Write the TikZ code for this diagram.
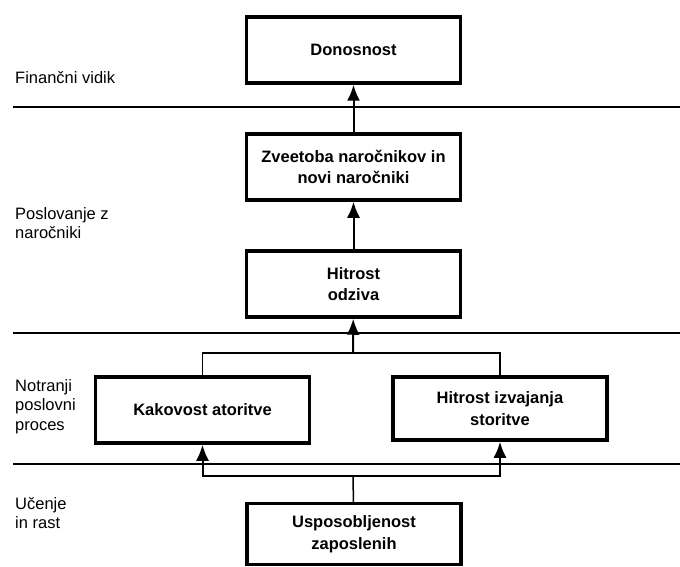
\documentclass[tikz,border=0pt]{standalone}
\usepackage{fontspec}
\setmainfont{Liberation Sans}
\usetikzlibrary{positioning,arrows.meta}

\begin{document}
\begin{tikzpicture}[x=1pt, y=-1pt,
  boxstyle/.style={
        draw,
        line width=3.5pt,
        minimum width=214pt,
        minimum height=66pt,
        inner sep=0,
        align=center,
        font=\bfseries\fontsize{16.5}{21.5}\selectfont
  },
  sidelabel/.style={
        anchor=north west,
        inner sep=0,
        align=left,
        font=\fontsize{16.5}{19.5}\selectfont
  },
  arrowline/.style={line width=2pt, -{Latex[length=16pt, width=13pt]}},
  joinline/.style={line width=1.5pt},
  layerline/.style={line width=1.6pt}
]

    \useasboundingbox (0,0) rectangle (680,567);

    % layers
    \draw[layerline] (13,107) -- (680,107);
    \draw[layerline] (13,333) -- (680,333);
    \draw[layerline] (13,464) -- (680,464);

    \node[sidelabel] (L_1) at (15,71) {Finančni vidik};
    \node[sidelabel] (L_2) at (15,207) {Poslovanje z\\naročniki};
    \node[sidelabel] (L_3) at (15,379) {Notranji\\poslovni\\proces};
    \node[sidelabel] (L_4) at (15,497) {Učenje\\in rast};

    % boxes
    \node[boxstyle] (Don) at (353.5,50) {Donosnost};
    \node[boxstyle, below=47.5pt of Don] (Zve) {Zveetoba naročnikov in\\novi naročniki};
    \node[boxstyle, below=47.5pt of Zve] (Odz) {Hitrost\\odziva};
    \node[boxstyle] (Kak) at (202.5,410) {Kakovost atoritve};
    \node[boxstyle, minimum height=63pt] (Izv) at (500,408.5) {Hitrost izvajanja\\storitve};
    \node[boxstyle, minimum height=61pt] (Usp) at (354,534) {Usposobljenost\\zaposlenih};

    \coordinate (J_1) at (353,353);
    \coordinate (J_2) at (353,476);

    \draw[arrowline] (Zve) -- (Don);
    \draw[arrowline] (Odz) -- (Zve);
    \draw[joinline] (Kak.north) |- (J_1) -| (Izv.north);
    \draw[arrowline] (J_1) -- (Odz);
    \draw[joinline] (Usp) -- (J_2);
    \draw[arrowline] (J_2) -| (Kak.south);
    \draw[arrowline] (J_2) -| (Izv.south);
\end{tikzpicture}
\end{document}
